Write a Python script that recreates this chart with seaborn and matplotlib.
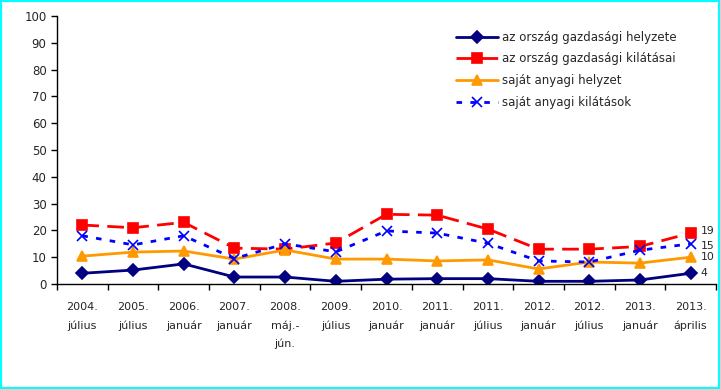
import matplotlib
matplotlib.use("Agg")
import matplotlib.pyplot as plt
import seaborn as sns
import pandas as pd
from matplotlib.patches import Rectangle

categories = ["2004.\njúlius", "2005.\njúlius", "2006.\njanuár", "2007.\njanuár",
              "2008.\nmáj.-\njún.", "2009.\njúlius", "2010.\njanuár", "2011.\njanuár",
              "2011.\njúlius", "2012.\njanuár", "2012.\njúlius", "2013.\njanuár",
              "2013.\náprilis"]
orszag_helyzete = [4, 5.2, 7.5, 2.6, 2.6, 1, 1.8, 2, 2, 1, 1, 1.5, 4]
orszag_kilatasai = [22, 21, 23, 13.4, 13, 15.3, 26, 25.7, 20.5, 13, 13, 14, 19]
sajat_helyzet = [10.4, 11.9, 12.3, 9.3, 12.7, 9.3, 9.3, 8.6, 9, 5.6, 8.2, 7.8, 10]
sajat_kilatasok = [18, 14.6, 18, 9.5, 15, 12, 19.8, 19, 15.2, 8.6, 8.2, 12.6, 15]
series_names = ["az ország gazdasági helyzete", "az ország gazdasági kilátásai",
                "saját anyagi helyzet", "saját anyagi kilátások"]
end_labels = ["19", "15", "10", "4"]

sns.set_style("ticks")
plt.rcParams['font.family'] = ['DejaVu Sans']

fig = plt.figure(figsize=(7.2, 3.89), dpi=100)
ax = fig.add_axes([57/720, 105/389, 659/720, 268/389])

x = list(range(len(categories)))
styles = [
    (orszag_helyzete, "#000080", "-", "D", 6),
    (orszag_kilatasai, "#FF0000", (0, (6, 3)), "s", 7),
    (sajat_helyzet, "#FF9900", "-", "^", 7),
    (sajat_kilatasok, "#0000FF", (0, (2, 3)), "x", 7),
]
for (vals, col, ls, mk, ms), name in zip(styles, series_names):
    df = pd.DataFrame({"x": x, "y": vals})
    sns.lineplot(data=df, x="x", y="y", ax=ax, color=col, linestyle=ls,
                 marker=mk, markersize=ms, linewidth=2, label=name,
                 markeredgecolor=col, markerfacecolor=col, markeredgewidth=1.2)

ax.set_xlim(-0.5, len(categories) - 0.5)
ax.set_ylim(0, 100)
ax.set_yticks(range(0, 101, 10))
ax.set_xticks(x)
ax.set_xticklabels(categories, fontsize=8, linespacing=1.95)
ax.set_xticks([i + 0.5 for i in range(-1, len(categories))], minor=True)
ax.tick_params(axis="x", which="major", length=0, pad=13)
ax.tick_params(axis="x", which="minor", length=4, width=1, color="black", direction="out")
ax.tick_params(axis="y", labelsize=8.5, length=4, width=1, color="black", direction="out")
ax.set_xlabel("")
ax.set_ylabel("")
for s in ["top", "right"]:
    ax.spines[s].set_visible(False)
for s in ["left", "bottom"]:
    ax.spines[s].set_color("black")
    ax.spines[s].set_linewidth(1)

end_vals = [orszag_kilatasai[-1], sajat_kilatasok[-1], sajat_helyzet[-1], orszag_helyzete[-1]]
nudges = [0.8, -0.8, 0, 0]
for lbl, val, nd in zip(end_labels, end_vals, nudges):
    ax.text(len(categories) - 1 + 0.2, val + nd, lbl, fontsize=7.8, va="center", ha="left")

leg = ax.legend(loc="upper left", bbox_to_anchor=(0.59, 0.985), frameon=False,
                fontsize=8.5, handlelength=3.5, handletextpad=0.4, labelspacing=0.75)

fig.patches.append(Rectangle((0, 0), 1, 1, transform=fig.transFigure,
                             fill=False, edgecolor="#00FFFF", linewidth=3))
fig.savefig("out.png", dpi=100)
